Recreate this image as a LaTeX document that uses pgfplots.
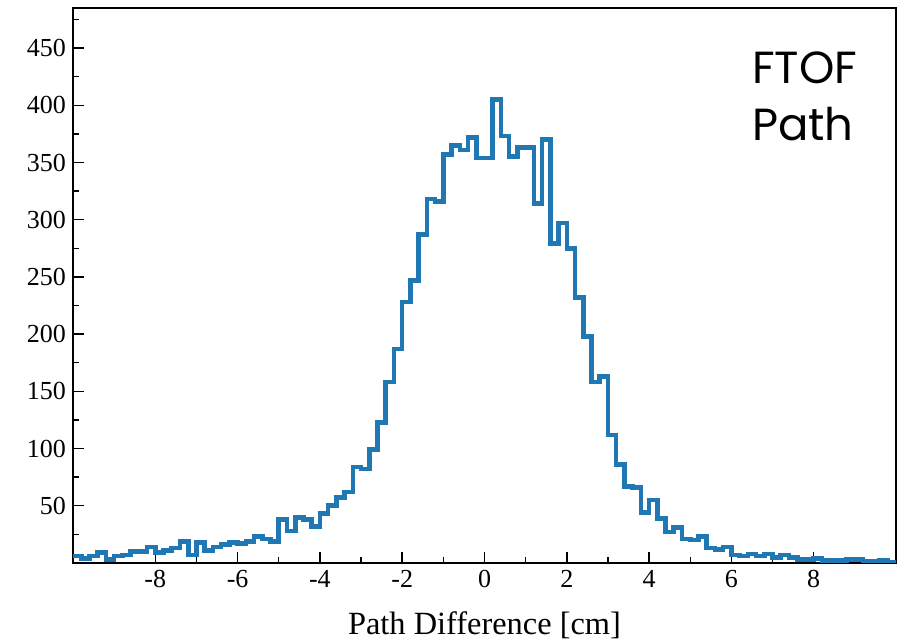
\documentclass[border=0pt]{standalone}
\usepackage{pgfplots}
\pgfplotsset{compat=1.18}
\usepackage{fontspec}
\setmainfont{Liberation Serif}
\newfontfamily\geo{Poppins}
\definecolor{tabblue}{HTML}{1F77B4}
\begin{document}
\begin{tikzpicture}
\useasboundingbox (0,0) rectangle (450.5pt,321.5pt);
\begin{axis}[
 at={(36.5pt,40pt)}, anchor=south west,
 scale only axis, width=411.5pt, height=277.5pt,
 xmin=-10, xmax=10, ymin=0, ymax=485,
 tick pos=left, tick align=inside,
 xtick={-8,-6,...,8}, xticklabels={-8,-6,-4,-2,0,2,4,6,8},
 minor xtick={-9,-7,...,9},
 ytick={50,100,...,450}, yticklabels={50,100,150,200,250,300,350,400,450},
 minor ytick={25,75,...,475},
 major tick length=5.5pt, minor tick length=3pt,
 every tick/.style={black, line width=0.7pt},
 axis line style={line width=0.8pt},
 ticklabel style={font=\fontsize{13}{15}\selectfont},
 xlabel={Path Difference [cm]},
 xlabel style={font=\fontsize{16.2}{19}\selectfont, yshift=-5pt},
]
\addplot[const plot mark left, tabblue, line width=2.3pt] table {
x y
-10.0 6
-9.8 4
-9.6 6
-9.4 9
-9.2 3
-9.0 6
-8.8 7
-8.6 10
-8.4 10
-8.2 14
-8.0 9
-7.8 11
-7.6 13
-7.4 19
-7.2 7
-7.0 18
-6.8 11
-6.6 14
-6.4 16
-6.2 18
-6.0 17
-5.8 19
-5.6 23
-5.4 21
-5.2 19
-5.0 38
-4.8 28
-4.6 40
-4.4 38
-4.2 32
-4.0 43
-3.8 50
-3.6 57
-3.4 62
-3.2 84
-3.0 82
-2.8 99
-2.6 123
-2.4 158
-2.2 187
-2.0 228
-1.8 247
-1.6 287
-1.4 318
-1.2 316
-1.0 357
-0.8 365
-0.6 361
-0.4 372
-0.2 354
0.0 354
0.2 405
0.4 373
0.6 355
0.8 363
1.0 363
1.2 314
1.4 370
1.6 279
1.8 297
2.0 275
2.2 232
2.4 198
2.6 158
2.8 163
3.0 112
3.2 86
3.4 67
3.6 66
3.8 44
4.0 55
4.2 39
4.4 27
4.6 31
4.8 21
5.0 20
5.2 23
5.4 13
5.6 12
5.8 14
6.0 7
6.2 6
6.4 8
6.6 6
6.8 8
7.0 5
7.2 7
7.4 5
7.6 3
7.8 3
8.0 4
8.2 2
8.4 2
8.6 2
8.8 3
9.0 3
9.2 1.5
9.4 1.5
9.6 2
9.8 1
10.0 1
};
\node[anchor=base west, inner sep=0pt, font=\geo\fontsize{22.5}{26}\selectfont] at (rel axis cs:0.8246,0.864) {FTOF};
\node[anchor=base west, inner sep=0pt, font=\geo\fontsize{22.5}{26}\selectfont] at (rel axis cs:0.8246,0.762) {Path};
\end{axis}
\end{tikzpicture}
\end{document}
